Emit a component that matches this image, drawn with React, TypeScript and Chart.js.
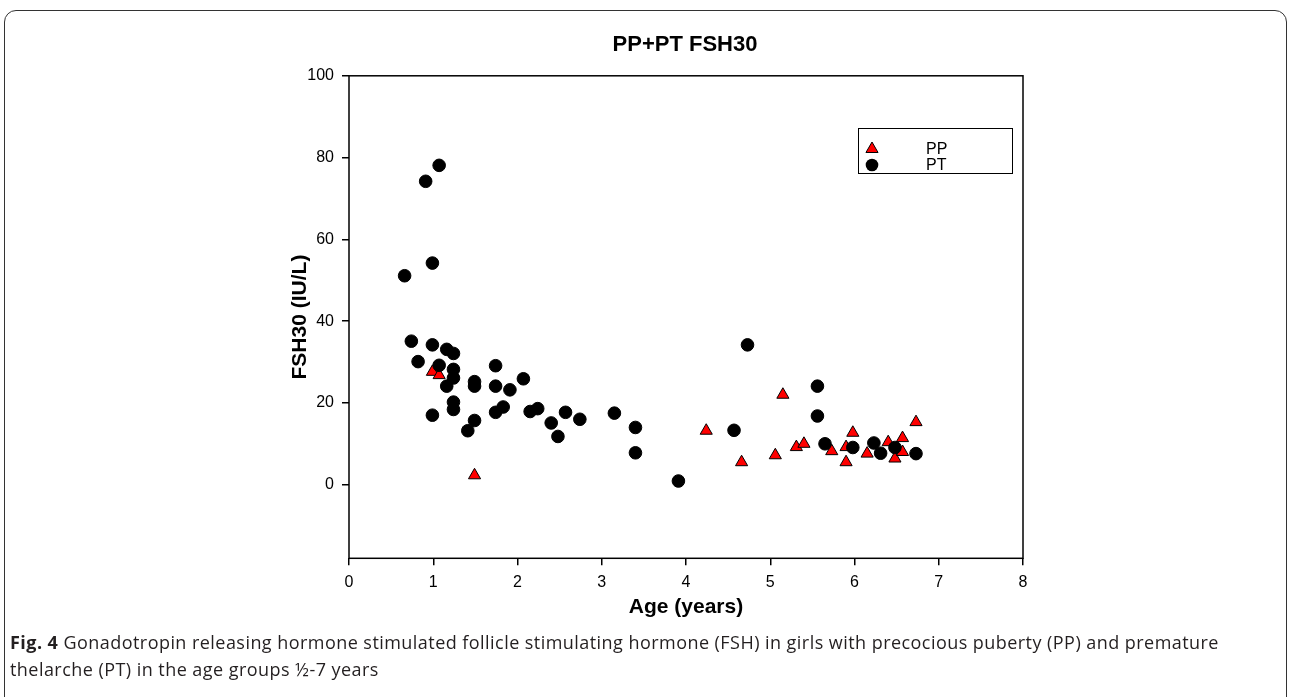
import React, { useEffect, useRef } from 'react';
import { Chart, registerables } from 'chart.js';

Chart.register(...registerables);

const chartTitle = 'PP+PT FSH30';
const xTitle = 'Age (years)';
const yTitle = 'FSH30 (IU/L)';
const seriesNames = ['PP', 'PT'];

const ppAges = [0.99, 1.07, 1.49, 4.24, 4.66, 5.06, 5.15, 5.31, 5.4, 5.73, 5.9, 5.9, 5.98, 6.15, 6.4, 6.48, 6.57, 6.57, 6.73];
const ppValues = [27.6, 26.8, 2.3, 13.2, 5.5, 7.2, 22.0, 9.2, 10.0, 8.2, 9.2, 5.5, 12.7, 7.6, 10.4, 6.4, 11.4, 8.0, 15.3];

const ptAges = [1.07, 0.91, 0.99, 0.66, 0.74, 0.99, 1.16, 1.24, 0.82, 1.07, 1.24, 1.24, 1.16, 1.49, 1.49, 1.74, 1.74, 1.91, 2.07, 1.24, 1.24, 0.99, 1.49, 1.41, 1.74, 1.83, 2.15, 2.24, 2.4, 2.57, 2.48, 2.74, 3.15, 3.4, 3.4, 4.73, 3.91, 4.57, 5.56, 5.56, 5.65, 5.98, 6.23, 6.31, 6.48, 6.73];
const ptValues = [78.1, 74.2, 54.2, 51.1, 35.1, 34.2, 33.1, 32.1, 30.1, 29.2, 28.2, 26.1, 24.1, 25.2, 24.1, 29.1, 24.1, 23.2, 25.9, 20.2, 18.4, 17.0, 15.7, 13.2, 17.7, 19.0, 17.9, 18.6, 15.1, 17.7, 11.8, 16.0, 17.5, 14.0, 7.8, 34.2, 0.9, 13.3, 24.1, 16.8, 10.0, 9.1, 10.2, 7.7, 9.1, 7.6];

const xTicks = [0, 1, 2, 3, 4, 5, 6, 7, 8];
const yTicks = [0, 20, 40, 60, 80, 100];
const yMin = -18;
const yMax = 100;

const FONT = "'Liberation Sans', Arial, sans-serif";

export default function App() {
  const ref = useRef<HTMLCanvasElement>(null);

  useEffect(() => {
    if (!ref.current) return;

    const framePlugin = {
      id: 'frame',
      beforeDatasetsDraw(chart: any) {
        const { ctx, chartArea: a } = chart;
        ctx.save();
        ctx.strokeStyle = '#000';
        ctx.lineWidth = 1.5;
        ctx.strokeRect(a.left, a.top, a.right - a.left, a.bottom - a.top);
        ctx.restore();
      },
    };

    const legendPlugin = {
      id: 'boxLegend',
      afterDraw(chart: any) {
        const { ctx } = chart;
        const ds = chart.data.datasets;
        ctx.save();
        ctx.strokeStyle = '#000';
        ctx.lineWidth = 1;
        ctx.strokeRect(858.5, 128.5, 154, 45);
        const tx = 872, ty = 149, r = 7;
        ctx.beginPath();
        ctx.moveTo(tx, ty - r);
        ctx.lineTo(tx + r * Math.sin((2 * Math.PI) / 3), ty - r * Math.cos((2 * Math.PI) / 3));
        ctx.lineTo(tx + r * Math.sin((4 * Math.PI) / 3), ty - r * Math.cos((4 * Math.PI) / 3));
        ctx.closePath();
        ctx.fillStyle = ds[1].backgroundColor;
        ctx.fill();
        ctx.strokeStyle = '#000';
        ctx.stroke();
        ctx.beginPath();
        ctx.arc(872, 165, 6.3, 0, Math.PI * 2);
        ctx.fillStyle = ds[0].backgroundColor;
        ctx.fill();
        ctx.font = `16px ${FONT}`;
        ctx.fillStyle = '#000';
        ctx.textAlign = 'left';
        ctx.textBaseline = 'middle';
        ctx.fillText(seriesNames[0], 926, 150);
        ctx.fillText(seriesNames[1], 926, 166);
        ctx.restore();
      },
    };

    const chart = new Chart(ref.current, {
      type: 'scatter',
      data: {
        datasets: [
          {
            label: seriesNames[1],
            data: ptAges.map((x, i) => ({ x, y: ptValues[i] })),
            pointStyle: 'circle',
            pointRadius: 6.3,
            backgroundColor: '#000000',
            borderColor: '#000000',
            borderWidth: 1,
            order: 0,
          },
          {
            label: seriesNames[0],
            data: ppAges.map((x, i) => ({ x, y: ppValues[i] })),
            pointStyle: 'triangle',
            pointRadius: 7,
            backgroundColor: '#ff0000',
            borderColor: '#000000',
            borderWidth: 1,
            order: 1,
          },
        ],
      },
      options: {
        animation: false,
        responsive: true,
        maintainAspectRatio: false,
        layout: { padding: { left: 287.4, right: 267, top: 75.8, bottom: 9.7 } },
        plugins: {
          legend: { display: false },
          tooltip: { enabled: false },
          title: { display: false },
        },
        scales: {
          x: {
            type: 'linear',
            min: 0,
            max: 8,
            afterBuildTicks(scale: any) {
              scale.ticks = xTicks.map((v) => ({ value: v }));
            },
            afterFit(scale: any) {
              scale.height = 62;
            },
            border: { display: false },
            grid: { drawOnChartArea: false, drawTicks: true, tickLength: 7, color: '#000', lineWidth: 1.5 },
            ticks: { color: '#000', font: { family: FONT, size: 16 }, padding: 8, maxRotation: 0, autoSkip: false },
            title: { display: true, text: xTitle, color: '#000', font: { family: FONT, size: 21, weight: 'bold' }, padding: 0 },
          },
          y: {
            type: 'linear',
            min: yMin,
            max: yMax,
            afterBuildTicks(scale: any) {
              scale.ticks = yTicks.map((v) => ({ value: v }));
            },
            afterFit(scale: any) {
              scale.width = 61.6;
            },
            border: { display: false },
            grid: { drawOnChartArea: false, drawTicks: true, tickLength: 7, color: '#000', lineWidth: 1.5 },
            ticks: { color: '#000', font: { family: FONT, size: 16 }, padding: 8, autoSkip: false },
            title: { display: true, text: yTitle, color: '#000', font: { family: FONT, size: 21, weight: 'bold' }, padding: 0 },
          },
        },
      },
      plugins: [framePlugin, legendPlugin],
    } as any);

    return () => chart.destroy();
  }, []);

  return (
    <div style={{ position: 'fixed', left: 0, top: 0, width: 1290, height: 697, background: '#fff', overflow: 'hidden' }}>
      <div
        style={{
          position: 'absolute',
          left: 4,
          top: 10,
          width: 1283,
          height: 740,
          boxSizing: 'border-box',
          border: '1.5px solid #333',
          borderRadius: 12,
        }}
      />
      <div style={{ position: 'absolute', left: 0, top: 0, width: 1290, height: 630 }}>
        <canvas ref={ref} />
      </div>
      <div
        style={{
          position: 'absolute',
          left: 685,
          top: 30,
          transform: 'translateX(-50%)',
          fontFamily: FONT,
          fontWeight: 'bold',
          fontSize: 22,
          lineHeight: '28px',
          whiteSpace: 'nowrap',
          color: '#000',
        }}
      >
        {chartTitle}
      </div>
      <div
        style={{
          position: 'absolute',
          left: 10,
          top: 629,
          fontFamily: "'Open Sans', 'Noto Sans', sans-serif",
          fontSize: 18,
          letterSpacing: '0.45px',
          lineHeight: '27px',
          whiteSpace: 'nowrap',
          color: '#231f20',
        }}
      >
        <b>Fig. 4</b> Gonadotropin releasing hormone stimulated follicle stimulating hormone (FSH) in girls with precocious puberty (PP) and premature
        <br />
        thelarche (PT) in the age groups ½-7 years
      </div>
    </div>
  );
}
